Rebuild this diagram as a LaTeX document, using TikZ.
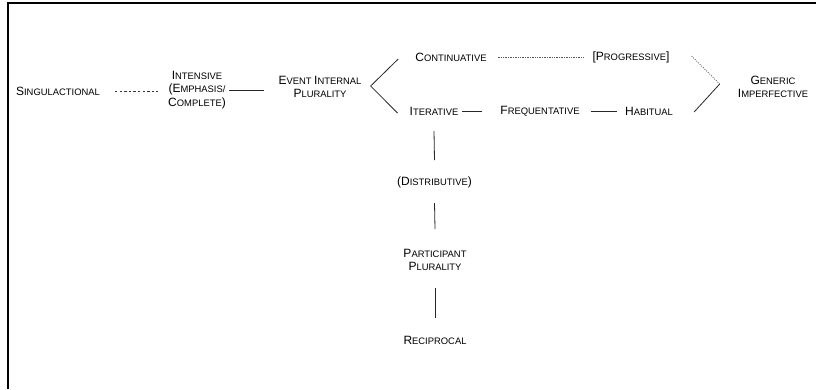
\documentclass[tikz,border=0pt]{standalone}
\usepackage{fontspec}
\setmainfont{Liberation Sans}
\newcommand{\Bg}[1]{{\fontsize{12}{13.4}\selectfont #1}}
\begin{document}
\begin{tikzpicture}[x=1pt,y=-1pt,
  lbl/.style={inner sep=0pt, align=center, text=black, font=\fontsize{9.4}{13.4}\selectfont},
  solidln/.style={line width=0.8pt, black!85},
  dashln/.style={line width=0.7pt, dash pattern=on 2.4pt off 2.2pt, black!80},
  dotln/.style={line width=0.6pt, dash pattern=on 0.6pt off 1.1pt, black!65},
  dotlnb/.style={line width=0.7pt, dash pattern=on 0.9pt off 1.4pt, black!75},
  frame/.style={line width=1.8pt, black}]
\useasboundingbox (0,0) rectangle (816,389);
\draw[frame] (8,389) -- (8,3) -- (816,3);

\node[lbl] (sing)  at (58,91) {\Bg{S}INGULACTIONAL};
\node[lbl] (intens) at (197,90) {\Bg{I}NTENSIVE\\\Bg{(E}MPHASIS/\\\Bg{C}OMPLETE\Bg{)}};
\node[lbl] (eip)   at (320,87) {\Bg{E}VENT \Bg{I}NTERNAL\\\Bg{P}LURALITY};
\node[lbl] (cont)  at (451,57) {\Bg{C}ONTINUATIVE};
\node[lbl] (prog)  at (631,57) {\Bg{[P}ROGRESSIVE\Bg{]}};
\node[lbl] (iter)  at (434,111) {\Bg{I}TERATIVE};
\node[lbl] (freq)  at (540,111) {\Bg{F}REQUENTATIVE};
\node[lbl] (hab)   at (649,111) {\Bg{H}ABITUAL};
\node[lbl] (gen)   at (773,87) {\Bg{G}ENERIC\\\Bg{I}MPERFECTIVE};
\node[lbl] (dist)  at (434.5,182) {\Bg{(D}ISTRIBUTIVE\Bg{)}};
\node[lbl] (part)  at (435,260) {\Bg{P}ARTICIPANT\\\Bg{P}LURALITY};
\node[lbl] (recip) at (435,340) {\Bg{R}ECIPROCAL};

\coordinate (lv) at ([xshift=9pt,yshift=1pt]eip.east);
\coordinate (rv) at ([xshift=-18pt,yshift=3pt]gen.west);

\draw[dashln, shorten <=15pt, shorten >=10pt] (sing.east) -- (sing.east -| intens.west);
\draw[solidln, shorten <=3pt, shorten >=14pt] (intens.east) -- (intens.east -| eip.west);
\draw[solidln] ([xshift=-17pt,yshift=-2pt]cont.west) -- (lv) -- ([xshift=-12pt,yshift=-2pt]iter.west);
\draw[dotln, shorten <=11pt, shorten >=8pt] (cont.east) -- (prog.west);
\draw[dotlnb] ([xshift=22pt,yshift=1pt]prog.east) -- (rv);
\draw[solidln] ([xshift=21pt,yshift=-1pt]hab.east) -- (rv);
\draw[solidln, shorten <=3pt, shorten >=18pt] (iter.east) -- (freq.west);
\draw[solidln, shorten <=11pt, shorten >=8pt] (freq.east) -- (hab.west);
\draw[solidln] ([yshift=-20pt]iter.center) -- ([yshift=22pt]dist.center);
\draw[solidln] ([yshift=-21pt]dist.center) -- ([yshift=31pt]part.center);
\draw[solidln] ([yshift=-28pt]part.center) -- ([yshift=22pt]recip.center);
\end{tikzpicture}
\end{document}
